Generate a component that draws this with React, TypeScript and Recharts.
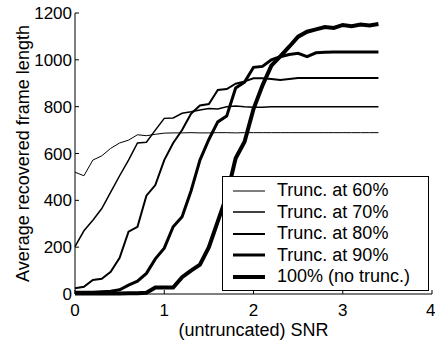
import { Label, Legend, Line, LineChart, XAxis, YAxis } from "recharts";

const snr = [
  0, 0.1, 0.2, 0.3, 0.4, 0.5, 0.6, 0.7, 0.8, 0.9, 1.0, 1.1, 1.2, 1.3, 1.4, 1.5, 1.6,
  1.7, 1.8, 1.9, 2.0, 2.1, 2.2, 2.3, 2.4, 2.5, 2.6, 2.7, 2.8, 2.9, 3.0, 3.1, 3.2, 3.3,
  3.4,
];

const trunc60 = [
  520, 505, 572, 590, 622, 645, 657, 680, 676, 682, 687, 688, 688, 689, 688, 688, 689,
  689, 688, 689, 689, 689, 689, 689, 689, 689, 689, 689, 689, 689, 689, 689, 689, 689,
  689,
];

const trunc70 = [
  202, 270, 315, 365, 435, 505, 572, 645, 648, 700, 750, 752, 772, 778, 786, 792, 790,
  800, 803, 800, 798, 797, 800, 800, 800, 800, 800, 800, 800, 800, 800, 800, 800, 800,
  800,
];

const trunc80 = [
  25, 31, 60, 65, 95, 155, 266, 287, 420, 465, 572, 645, 700, 770, 805, 811, 871, 875,
  898, 908, 921, 921, 918, 914, 918, 922, 922, 922, 922, 922, 922, 922, 922, 922, 922,
];

const trunc90 = [
  8, 8, 8, 10, 12, 18, 38, 55, 88, 150, 196, 287, 330, 440, 572, 660, 735, 760, 880,
  905, 968, 972, 1000, 1013, 1023, 1028, 1014, 1030, 1032, 1033, 1033, 1033, 1033, 1033,
  1033,
];

const noTrunc = [
  2, 2, 2, 2, 2, 2, 3, 3, 5, 28, 28, 28, 72, 100, 125, 200, 310, 420, 580, 650, 790,
  890, 975, 1015, 1056, 1099, 1120, 1130, 1140, 1136, 1149, 1144, 1151, 1147, 1153,
];

const xTicks = [0, 1, 2, 3, 4];
const yTicks = [0, 200, 400, 600, 800, 1000, 1200];

const series = [
  { key: "t60", name: "Trunc. at 60%", values: trunc60, width: 1 },
  { key: "t70", name: "Trunc. at 70%", values: trunc70, width: 1.5 },
  { key: "t80", name: "Trunc. at 80%", values: trunc80, width: 2 },
  { key: "t90", name: "Trunc. at 90%", values: trunc90, width: 3 },
  { key: "t100", name: "100% (no trunc.)", values: noTrunc, width: 4 },
];

const data = snr.map((x, i) => {
  const row: Record<string, number> = { snr: x };
  series.forEach((s) => {
    row[s.key] = s.values[i];
  });
  return row;
});

const font = '"Liberation Sans", Arial, Helvetica, sans-serif';

function LegendBox() {
  return (
    <div
      style={{
        boxSizing: "border-box",
        border: "1px solid #000",
        background: "#fff",
        padding: "3px 0 2px 0",
        fontFamily: font,
        fontSize: 18,
        color: "#000",
      }}
    >
      {series.map((s) => (
        <div
          key={s.key}
          style={{ display: "flex", alignItems: "center", height: 21.5, whiteSpace: "nowrap" }}
        >
          <svg width={43} height={10} style={{ display: "block" }}>
            <line x1={10} x2={42} y1={5} y2={5} stroke="#000" strokeWidth={s.width} />
          </svg>
          <span style={{ marginLeft: 11 }}>{s.name}</span>
        </div>
      ))}
    </div>
  );
}

export default function App() {
  return (
    <div style={{ position: "absolute", left: 0, top: 0, background: "#fff" }}>
      <LineChart
        width={435}
        height={342}
        data={data}
        margin={{ top: 13, right: 3, left: 15, bottom: 18 }}
        style={{ fontFamily: font }}
      >
        <XAxis
          dataKey="snr"
          type="number"
          domain={[0, 4]}
          ticks={xTicks}
          height={30}
          stroke="#000"
          tickSize={-4}
          tickMargin={14}
          tick={{ fill: "#000", fontSize: 17 }}
        >
          <Label
            value="(untruncated) SNR"
            position="bottom"
            offset={-1}
            style={{ fill: "#000", fontSize: 18 }}
          />
        </XAxis>
        <YAxis
          type="number"
          domain={[0, 1200]}
          ticks={yTicks}
          width={60}
          stroke="#000"
          tickSize={-4}
          tickMargin={7}
          tick={{ fill: "#000", fontSize: 17 }}
        >
          <Label
            value="Average recovered frame length"
            angle={-90}
            position="insideLeft"
            offset={8}
            style={{ fill: "#000", fontSize: 18, textAnchor: "middle" }}
          />
        </YAxis>
        {series.map((s) => (
          <Line
            key={s.key}
            dataKey={s.key}
            name={s.name}
            type="linear"
            stroke="#000"
            strokeWidth={s.width}
            dot={false}
            activeDot={false}
            isAnimationActive={false}
          />
        ))}
        <Legend
          layout="vertical"
          align="center"
          verticalAlign="middle"
          wrapperStyle={{ left: 222, top: 176, width: 207 }}
          content={() => <LegendBox />}
        />
      </LineChart>
    </div>
  );
}
